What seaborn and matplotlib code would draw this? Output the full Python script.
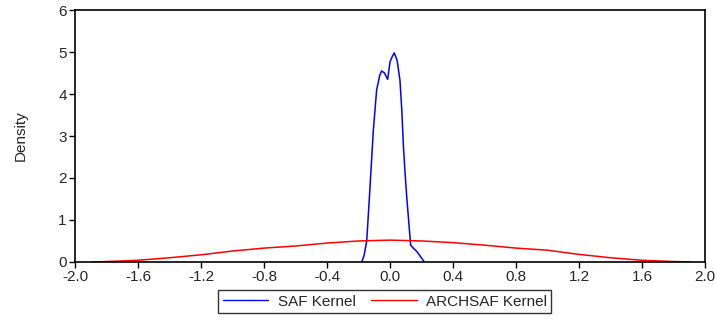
import matplotlib
matplotlib.use("Agg")
import matplotlib.pyplot as plt
import seaborn as sns
import pandas as pd
from matplotlib.lines import Line2D

# kernel density estimates
saf_x = [-0.180, -0.165, -0.148, -0.130, -0.106, -0.085, -0.065, -0.053, -0.035, -0.015,
         0.000, 0.015, 0.027, 0.045, 0.063, 0.075, 0.085, 0.095, 0.106, 0.120,
         0.131, 0.150, 0.170, 0.195, 0.218]
saf_y = [0.00, 0.15, 0.50, 1.60, 3.14, 4.10, 4.45, 4.55, 4.50, 4.35,
         4.77, 4.90, 4.98, 4.80, 4.33, 3.60, 2.75, 2.15, 1.55, 0.90,
         0.40, 0.32, 0.25, 0.12, 0.00]

arch_x = [-1.896, -1.8, -1.6, -1.4, -1.2, -1.0, -0.8, -0.6, -0.4, -0.2, 0.0,
          0.2, 0.4, 0.6, 0.8, 1.0, 1.2, 1.4, 1.6, 1.8, 1.905]
arch_y = [0.00, 0.01, 0.04, 0.10, 0.17, 0.26, 0.33, 0.38, 0.45, 0.50, 0.52,
          0.50, 0.46, 0.40, 0.33, 0.28, 0.18, 0.10, 0.04, 0.01, 0.00]

saf = pd.DataFrame({"x": saf_x, "y": saf_y, "series": "SAF Kernel"})
arch = pd.DataFrame({"x": arch_x, "y": arch_y, "series": "ARCHSAF Kernel"})
df = pd.concat([saf, arch], ignore_index=True)

sns.set_style("white")
plt.rcParams["font.family"] = ["Liberation Sans", "DejaVu Sans"]

fig = plt.figure(figsize=(7.15, 3.25), dpi=100)
ax = fig.add_axes([0.105, 0.194, 0.881, 0.775])

sns.lineplot(data=df, x="x", y="y", hue="series", sort=False,
             palette={"SAF Kernel": "#0000ff", "ARCHSAF Kernel": "#ff0000"},
             linewidth=1.1, ax=ax, legend=False)

ax.set_xlim(-2.0, 2.0)
ax.set_ylim(0, 6)
ax.set_xticks([-2.0, -1.6, -1.2, -0.8, -0.4, 0.0, 0.4, 0.8, 1.2, 1.6, 2.0])
ax.set_xticklabels([f"{v:.1f}" for v in ax.get_xticks()])
ax.set_yticks(range(7))
ax.tick_params(axis="both", direction="out", length=4, width=1, labelsize=11,
               bottom=True, left=True, pad=2, color="black")
ax.set_xlabel("")
ax.set_ylabel("Density", fontsize=11, labelpad=22)
for s in ax.spines.values():
    s.set_color("black")
    s.set_linewidth(1.2)

handles = [Line2D([], [], color="#0000ff", lw=1),
           Line2D([], [], color="#ff0000", lw=1)]
leg = fig.legend(handles, ["SAF Kernel", "ARCHSAF Kernel"], loc="center",
                 bbox_to_anchor=(0.538, 0.072), ncol=2, frameon=True,
                 fancybox=False, edgecolor="black", fontsize=11,
                 handlelength=3.0, columnspacing=1.0, handletextpad=0.6,
                 borderpad=0.3)
leg.get_frame().set_linewidth(1.0)

fig.savefig("out.png", dpi=100)
